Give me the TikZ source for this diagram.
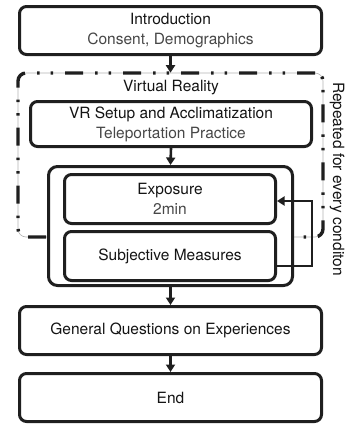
\documentclass[tikz,border=0pt]{standalone}
\usepackage{fontspec}
\setmainfont{TeX Gyre Heros}
\usetikzlibrary{arrows.meta}
\begin{document}
\begin{tikzpicture}[x=1pt,y=-1pt,
  txt/.style={font=\fontsize{15.5}{20}\selectfont, text=black!92},
  box/.style={txt, draw=black!88, line width=3pt, rounded corners=7pt,
    fill=white, inner sep=0pt, align=center},
  flow/.style={-{Triangle[width=9pt,length=7.5pt]}, line width=2.6pt, draw=black!88},
  groupbox/.style={draw=black!30, line width=0.6pt, rounded corners=8pt, inner sep=0pt,
    postaction={draw=black!88, line width=3.4pt,
      dash pattern=on 18pt off 12pt on 2.5pt off 11pt on 2.5pt off 12pt}}]
\useasboundingbox (0,0) rectangle (351,426);

% repeated VR block (dash-dot frame)
\node[groupbox, minimum width=305pt, minimum height=164pt] (vr) at (170.5,155) {};
\node[txt] (vrlabel) at (171,88) {Virtual Reality};

% main steps
\node[box, minimum width=302pt, minimum height=48pt] (intro) at (170.5,30.5)
  {Introduction\\{\color{black!72}Consent, Demographics}};
\node[box, minimum width=281pt, minimum height=45pt] (setup) at (171,124)
  {VR Setup and Acclimatization\\{\color{black!72}Teleportation Practice}};
\node[box, rounded corners=9pt, minimum width=244pt, minimum height=119pt] (loop) at (170.5,226) {};
\node[box, minimum width=211pt, minimum height=49pt] (expo) at (170,199)
  {Exposure\\{\color{black!72}2min}};
\node[box, minimum width=211pt, minimum height=49pt] (subj) at (170,256)
  {Subjective Measures};
\node[box, minimum width=302pt, minimum height=48pt] (gen) at (170.5,330.5)
  {General Questions on Experiences};
\node[box, minimum width=302pt, minimum height=48pt] (end) at (170.5,397.5)
  {End};

\node[txt, rotate=-90] (rep) at (337,179) {Repeated for every conditon};

% connectors
\draw[flow] (intro.south) -- (vr.north);
\draw[flow] (setup.south) -- (loop.north);
\draw[flow] (loop.south) -- (gen.north);
\draw[flow] (gen.south) -- (end.north);
\draw[flow] ([yshift=-10pt]subj.east) -- ++(35,0) |- ([yshift=-2pt]expo.east);
\end{tikzpicture}
\end{document}
